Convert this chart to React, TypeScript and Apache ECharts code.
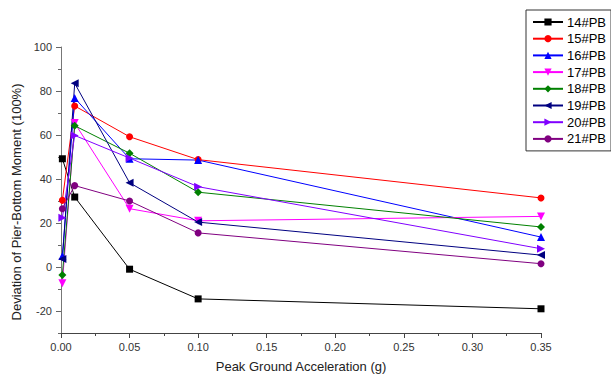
import React, { useEffect, useRef } from "react";
import * as echarts from "echarts";

const xValues = [0.001, 0.01, 0.05, 0.1, 0.35];
const seriesNames = ["14#PB", "15#PB", "16#PB", "17#PB", "18#PB", "19#PB", "20#PB", "21#PB"];
const s14 = [49.2, 31.8, -1, -14.5, -19];
const s15 = [30.3, 73.2, 59.2, 48.8, 31.4];
const s16 = [5, 76.8, 49.2, 48.6, 13.6];
const s17 = [-7.4, 65.4, 26.5, 21, 23];
const s18 = [-3.6, 64.2, 51.7, 34, 18.2];
const s19 = [3.6, 83.5, 38.3, 20.4, 5.4];
const s20 = [22.4, 59.8, 49.5, 36.5, 8.3];
const s21 = [26.5, 37, 30, 15.5, 1.5];
const allValues = [s14, s15, s16, s17, s18, s19, s20, s21];
const colors = ["#000000", "#ff0000", "#0000ff", "#ff00ff", "#008000", "#000080", "#8000ff", "#800080"];
const symbols = ["rect", "circle", "triangle", "triangle", "diamond", "triangle", "triangle", "circle"];
const rotations = [0, 0, 0, 180, 0, 90, -90, 0];
const symbolSizes = [7, 7, 8, 8, 8, 8, 8, 7];
const yMajorTicks = [-20, 0, 20, 40, 60, 80, 100];
const yMinorTicks = [-30, -10, 10, 30, 50, 70, 90];

const FONT = "'Liberation Sans', Arial, sans-serif";

export default function App() {
  const ref = useRef<HTMLDivElement>(null);
  useEffect(() => {
    if (!ref.current) return;
    const chart = echarts.init(ref.current, undefined, { renderer: "svg" });
    chart.setOption({
      animation: false,
      backgroundColor: "#ffffff",
      grid: { left: 61, right: 70, top: 47, bottom: 45 },
      legend: {
        orient: "vertical",
        left: 526,
        top: 10,
        width: 83,
        padding: [5, 5, 5, 6],
        itemWidth: 30,
        itemHeight: 9,
        itemGap: 2.7,
        borderColor: "#333",
        borderWidth: 1,
        borderRadius: 0,
        textStyle: { fontFamily: FONT, fontSize: 13, color: "#000", lineHeight: 14, padding: [0, 0, 0, -1] },
        data: seriesNames,
      },
      xAxis: {
        type: "value",
        min: 0,
        max: 0.35,
        interval: 0.05,
        name: "Peak Ground Acceleration (g)",
        nameLocation: "middle",
        nameGap: 27,
        nameTextStyle: { fontFamily: FONT, fontSize: 13, color: "#222" },
        axisLine: { show: true, onZero: false, lineStyle: { color: "#444", width: 1 } },
        axisTick: { show: true, length: 5, lineStyle: { color: "#444" } },
        minorTick: { show: true, splitNumber: 2, length: 3, lineStyle: { color: "#444" } },
        axisLabel: {
          fontFamily: FONT,
          fontSize: 11,
          color: "#333",
          margin: 8,
          formatter: (v: number) => v.toFixed(2),
        },
        splitLine: { show: false },
      },
      yAxis: [
        {
          type: "value",
          min: -30,
          max: 100,
          name: "Deviation of Pier-Bottom Moment (100%)",
          nameLocation: "middle",
          nameGap: 33,
          nameTextStyle: { fontFamily: FONT, fontSize: 13, color: "#222", padding: [0, 24, 0, 0] },
          axisLine: { show: true, onZero: false, lineStyle: { color: "#777", width: 1 } },
          axisTick: { show: true, length: 5, customValues: yMajorTicks, lineStyle: { color: "#666" } },
          axisLabel: {
            fontFamily: FONT,
            fontSize: 11,
            color: "#333",
            margin: 9,
            customValues: yMajorTicks,
          },
          splitLine: { show: false },
        },
        {
          type: "value",
          min: -30,
          max: 100,
          position: "left",
          axisLine: { show: false },
          axisTick: { show: true, length: 3, customValues: yMinorTicks, lineStyle: { color: "#666" } },
          axisLabel: { show: false, customValues: yMinorTicks },
          splitLine: { show: false },
        },
      ],
      series: seriesNames.map((name, i) => ({
        name,
        type: "line",
        yAxisIndex: 0,
        data: xValues.map((x, j) => [x, allValues[i][j]]),
        symbol: symbols[i],
        symbolRotate: rotations[i],
        symbolSize: symbolSizes[i],
        showAllSymbol: true,
        color: colors[i],
        lineStyle: { color: colors[i], width: 1 },
        itemStyle: { color: colors[i] },
      })),
    });
    return () => chart.dispose();
  }, []);
  return <div ref={ref} style={{ width: 611, height: 378, position: "absolute", left: 0, top: 0 }} />;
}
